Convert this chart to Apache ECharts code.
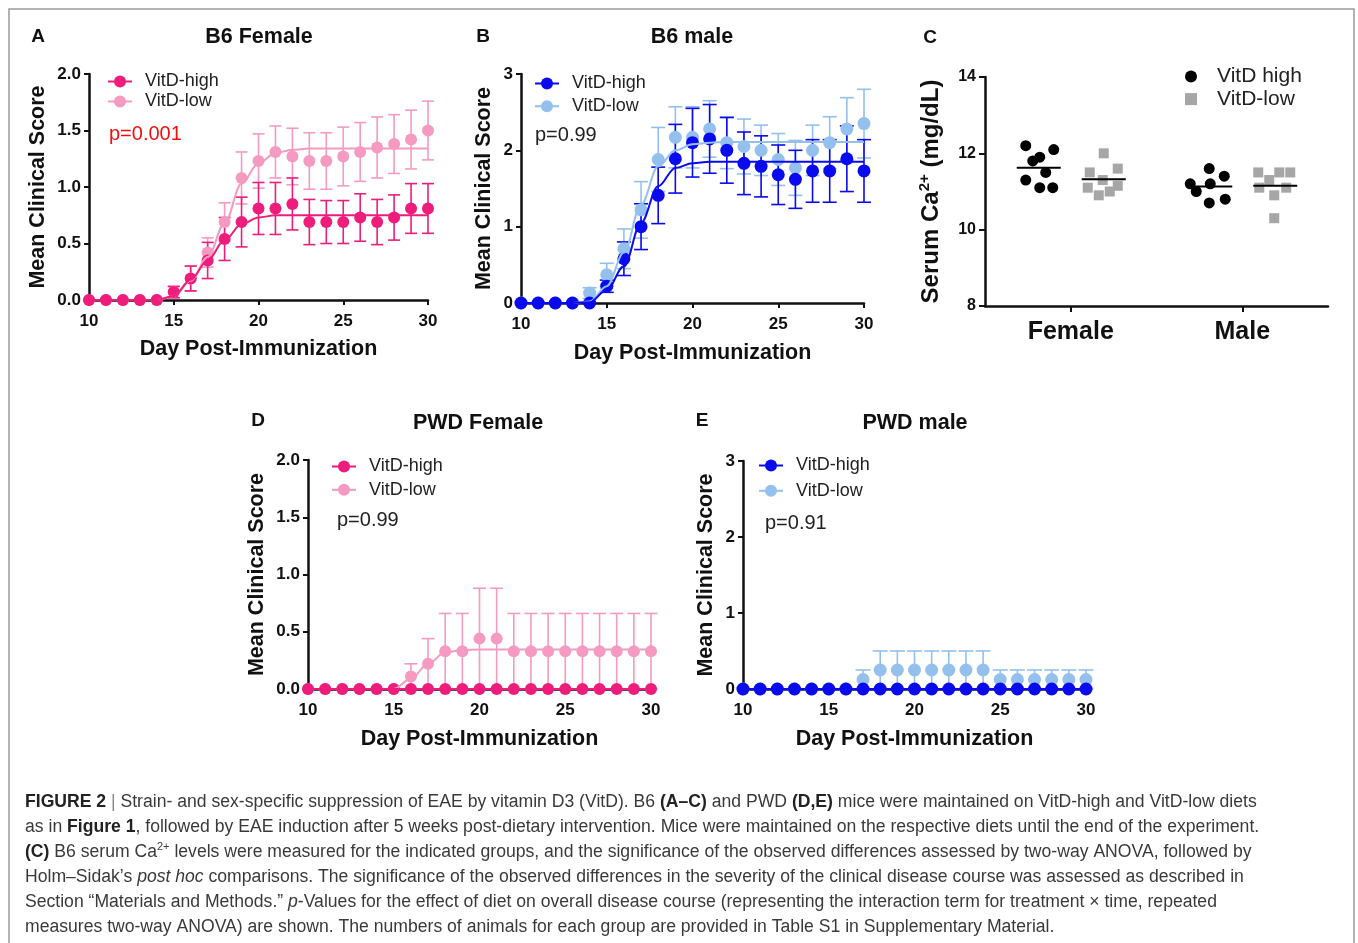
<!DOCTYPE html>
<html><head><meta charset="utf-8">
<script src="https://cdn.jsdelivr.net/npm/echarts@6/dist/echarts.min.js"></script>
<style>html,body{margin:0;padding:0;background:#fff}#chart{width:1358px;height:943px}</style>
</head><body><div id="chart"></div>
<script>
// ---------------- DATA ----------------
const days = [10,11,12,13,14,15,16,17,18,19,20,21,22,23,24,25,26,27,28,29,30];

// A: B6 Female
const aHighMean = [0,0,0,0,0,0.07,0.19,0.35,0.54,0.69,0.81,0.81,0.85,0.69,0.69,0.69,0.73,0.69,0.73,0.81,0.81];
const aHighErr  = [0,0,0,0,0,0.05,0.11,0.16,0.19,0.22,0.23,0.23,0.23,0.20,0.19,0.19,0.21,0.20,0.20,0.22,0.22];
const aHighFit  = [0,0,0,0,0,0.035,0.18,0.35,0.53,0.67,0.73,0.75,0.75,0.75,0.75,0.75,0.75,0.75,0.75,0.75,0.75];
const aLowMean  = [0,0,0,0,0,0.07,0.19,0.42,0.69,1.08,1.23,1.31,1.27,1.23,1.23,1.27,1.31,1.35,1.38,1.42,1.50];
const aLowErr   = [0,0,0,0,0,0.05,0.11,0.13,0.17,0.23,0.24,0.23,0.25,0.25,0.25,0.26,0.26,0.27,0.26,0.26,0.26];
const aLowFit   = [0,0,0,0,0,0.035,0.17,0.38,0.68,1.03,1.21,1.30,1.33,1.34,1.34,1.34,1.34,1.34,1.34,1.34,1.34];

// B: B6 male
const bHighMean = [0,0,0,0,0,0.22,0.58,1.00,1.41,1.89,2.10,2.15,2.00,1.83,1.79,1.68,1.62,1.73,1.73,1.89,1.73];
const bHighErr  = [0,0,0,0,0,0.08,0.22,0.30,0.37,0.45,0.45,0.45,0.43,0.41,0.40,0.39,0.38,0.41,0.41,0.43,0.41];
const bHighFit  = [0,0,0,0,0.01,0.17,0.48,1.05,1.53,1.77,1.83,1.85,1.85,1.85,1.85,1.85,1.85,1.85,1.85,1.85,1.85];
const bLowMean  = [0,0,0,0,0.13,0.37,0.71,1.22,1.88,2.17,2.17,2.28,2.10,2.05,2.00,1.88,1.77,2.00,2.10,2.28,2.35];
const bLowErr   = [0,0,0,0,0.07,0.15,0.26,0.37,0.42,0.40,0.40,0.37,0.34,0.36,0.33,0.34,0.36,0.33,0.34,0.41,0.45];
const bLowFit   = [0,0,0,0,0.02,0.22,0.66,1.29,1.79,2.00,2.08,2.10,2.11,2.11,2.11,2.11,2.11,2.11,2.11,2.11,2.11];

// C: serum Ca2+ (mg/dL)
const cCategories = ['Female','Male'];
const cFemaleHigh = [12.2,12.1,11.8,11.9,11.5,11.3,11.1,11.1];
const cFemaleLow  = [12.0,11.5,11.6,11.3,11.1,11.0,11.15,10.9];
const cMaleHigh   = [11.6,11.4,11.2,11.0,11.2,10.8,10.7];
const cMaleLow    = [11.5,11.5,11.5,11.3,11.1,11.1,10.9,10.3];

// D: PWD Female
const dHighMean = [0,0,0,0,0,0,0,0,0,0,0,0,0,0,0,0,0,0,0,0,0];
const dHighErr  = [0,0,0,0,0,0,0,0,0,0,0,0,0,0,0,0,0,0,0,0,0];
const dHighFit  = [0,0,0,0,0,0,0,0,0,0,0,0,0,0,0,0,0,0,0,0,0];
const dLowMean  = [0,0,0,0,0,0,0.11,0.22,0.33,0.33,0.44,0.44,0.33,0.33,0.33,0.33,0.33,0.33,0.33,0.33,0.33];
const dLowErr   = [0,0,0,0,0,0,0.11,0.22,0.33,0.33,0.44,0.44,0.33,0.33,0.33,0.33,0.33,0.33,0.33,0.33,0.33];
const dLowFit   = [0,0,0,0,0,0,0.09,0.22,0.32,0.34,0.345,0.345,0.345,0.345,0.345,0.345,0.345,0.345,0.345,0.345,0.345];

// E: PWD male
const eHighMean = [0,0,0,0,0,0,0,0,0,0,0,0,0,0,0,0,0,0,0,0,0];
const eHighErr  = [0,0,0,0,0,0,0,0,0,0,0,0,0,0,0,0,0,0,0,0,0];
const eHighFit  = [0,0,0,0,0,0,0,0,0,0,0,0,0,0,0,0,0,0,0,0,0];
const eLowMean  = [0,0,0,0,0,0,0,0.125,0.25,0.25,0.25,0.25,0.25,0.25,0.25,0.125,0.125,0.125,0.125,0.125,0.125];
const eLowErr   = [0,0,0,0,0,0,0,0.125,0.25,0.25,0.25,0.25,0.25,0.25,0.25,0.125,0.125,0.125,0.125,0.125,0.125];
const eLowFit   = [0,0,0,0,0,0,0,0,0,0,0,0,0,0,0,0,0,0,0,0,0];

const pValues = ['p=0.001','p=0.99','p=0.99','p=0.91'];

// ---------------- STYLE ----------------
const FONT = "'Liberation Sans', Arial, Helvetica, sans-serif";
const INK = '#111';
const PINK_D = '#ee1c7a', PINK_L = '#f59ac0', BLUE_D = '#0a0aef', BLUE_L = '#94c0ee';
const C_BLACK = '#000', C_GRAY = '#a6a6a6';

const gridsPx = [
  {left:89,  top:74,  width:339, height:226},  // A
  {left:521, top:74,  width:343, height:229},  // B
  {left:985, top:77,  width:343, height:229},  // C
  {left:308, top:460, width:343, height:229},  // D
  {left:743, top:461, width:343, height:228}   // E
];

// jitter pattern (px) for column scatter in C, relative to group centre
const GROUP_SHIFT_PX = {high:-32, low:33};
const JIT = {
  fh:[-13,15,-6,1,7,-13,1,14],
  fl:[0,-14,14,-1,-16,6,14,-5],
  mh:[-1,14,-20,-14,0,15,-1],
  ml:[-17,4,15,-6,-16,11,-1,-1]
};

const axisLineStyle = {color:INK, width:2.5};
function timeXAxis(gi, gap){
  return {type:'value', gridIndex:gi, min:10, max:30, interval:5,
    axisLine:{show:true, onZero:false, lineStyle:axisLineStyle},
    axisTick:{show:true, length:5, lineStyle:{color:INK, width:2}},
    axisLabel:{fontFamily:FONT, fontSize:17, fontWeight:'bold', color:INK, margin:12.5},
    splitLine:{show:false},
    name:'Day Post-Immunization', nameLocation:'middle', nameGap:gap,
    nameTextStyle:{fontFamily:FONT, fontSize:21.5, fontWeight:'bold', color:INK}};
}
function scoreYAxis(gi, max, interval, dec, gap){
  return {type:'value', gridIndex:gi, min:0, max:max, interval:interval,
    axisLine:{show:true, onZero:false, lineStyle:axisLineStyle},
    axisTick:{show:true, length:5, lineStyle:{color:INK, width:2}},
    axisLabel:{fontFamily:FONT, fontSize:17, fontWeight:'bold', color:INK, margin:8,
      formatter: v => v.toFixed(dec)},
    splitLine:{show:false},
    name:'Mean Clinical Score', nameLocation:'middle', nameGap:gap, nameRotate:90,
    nameTextStyle:{fontFamily:FONT, fontSize:21.5, fontWeight:'bold', color:INK}};
}

function errRenderer(capW){
  return function(params, api){
    const x = api.value(0), y = api.value(1), e = api.value(2);
    if (!e) return null;
    const hi = api.coord([x, y + e]), lo = api.coord([x, y - e]);
    const w = capW / 2;
    const st = {stroke: api.visual('color'), lineWidth: 1.6, fill:null};
    return {type:'group', children:[
      {type:'line', shape:{x1:hi[0], y1:hi[1], x2:lo[0], y2:lo[1]}, style:st},
      {type:'line', shape:{x1:hi[0]-w, y1:hi[1], x2:hi[0]+w, y2:hi[1]}, style:st},
      {type:'line', shape:{x1:lo[0]-w, y1:lo[1], x2:lo[0]+w, y2:lo[1]}, style:st}
    ]};
  };
}

function panelSeries(tag, xi, yi, capW, symSize, groups){
  const out = [];
  groups.forEach(g => {
    out.push({type:'custom', xAxisIndex:xi, yAxisIndex:yi, clip:false, silent:true,
      itemStyle:{color:g.color}, renderItem:errRenderer(capW),
      data: days.map((d,i) => [d, g.mean[i], g.err[i]])});
    out.push({type:'line', name: tag + ' ' + g.key, xAxisIndex:xi, yAxisIndex:yi, clip:false,
      smooth:0.35, smoothMonotone:'x', symbol:'circle', symbolSize:symSize, showSymbol:false,
      lineStyle:{color:g.color, width:2}, itemStyle:{color:g.color}, silent:true,
      data: days.map((d,i) => [d, g.fit[i]])});
    out.push({type:'scatter', xAxisIndex:xi, yAxisIndex:yi, clip:false, silent:true,
      symbol:'circle', symbolSize:symSize, itemStyle:{color:g.color, opacity:1},
      data: days.map((d,i) => [d, g.mean[i]])});
  });
  return out;
}

const series = [];
series.push(...panelSeries('A', 0, 0, 12, 12, [
  {key:'VitD-low',  color:PINK_L, mean:aLowMean,  err:aLowErr,  fit:aLowFit},
  {key:'VitD-high', color:PINK_D, mean:aHighMean, err:aHighErr, fit:aHighFit}]));
series.push(...panelSeries('B', 1, 1, 14, 13, [
  {key:'VitD-low',  color:BLUE_L, mean:bLowMean,  err:bLowErr,  fit:bLowFit},
  {key:'VitD-high', color:BLUE_D, mean:bHighMean, err:bHighErr, fit:bHighFit}]));
series.push(...panelSeries('D', 2, 3, 13, 12, [
  {key:'VitD-low',  color:PINK_L, mean:dLowMean,  err:dLowErr,  fit:dLowFit},
  {key:'VitD-high', color:PINK_D, mean:dHighMean, err:dHighErr, fit:dHighFit}]));
series.push(...panelSeries('E', 3, 4, 15, 13, [
  {key:'VitD-low',  color:BLUE_L, mean:eLowMean,  err:eLowErr,  fit:eLowFit},
  {key:'VitD-high', color:BLUE_D, mean:eHighMean, err:eHighErr, fit:eHighFit}]));

// Panel C: column scatter
const cUnitPx = gridsPx[2].width / cCategories.length;
function colPoints(vals, catIdx, shiftPx, jit){
  return vals.map((v,i) => [catIdx + 0.5 + (shiftPx + jit[i]) / cUnitPx, v]);
}
const mean = a => a.reduce((s,v)=>s+v,0)/a.length;
series.push({type:'scatter', name:'C VitD high', xAxisIndex:5, yAxisIndex:2, clip:false, silent:true,
  symbol:'circle', symbolSize:11, itemStyle:{color:C_BLACK, opacity:1},
  data:[...colPoints(cFemaleHigh,0,GROUP_SHIFT_PX.high,JIT.fh), ...colPoints(cMaleHigh,1,GROUP_SHIFT_PX.high,JIT.mh)]});
series.push({type:'scatter', name:'C VitD-low', xAxisIndex:5, yAxisIndex:2, clip:false, silent:true,
  symbol:'rect', symbolSize:10, itemStyle:{color:C_GRAY, opacity:1},
  data:[...colPoints(cFemaleLow,0,GROUP_SHIFT_PX.low,JIT.fl), ...colPoints(cMaleLow,1,GROUP_SHIFT_PX.low,JIT.ml)]});
series.push({type:'custom', xAxisIndex:5, yAxisIndex:2, clip:false, silent:true, z:5,
  renderItem:function(params, api){
    const x = api.value(0), y = api.value(1);
    const p = api.coord([x, y]);
    return {type:'line', shape:{x1:p[0]-22, y1:p[1], x2:p[0]+22, y2:p[1]},
      style:{stroke:'#000', lineWidth:2}};
  },
  data:[
    [0.5 + GROUP_SHIFT_PX.high / cUnitPx, mean(cFemaleHigh)],
    [0.5 + GROUP_SHIFT_PX.low  / cUnitPx, mean(cFemaleLow)],
    [1.5 + GROUP_SHIFT_PX.high / cUnitPx, mean(cMaleHigh)],
    [1.5 + GROUP_SHIFT_PX.low  / cUnitPx, mean(cMaleLow)]
  ]});

const xAxis = [
  timeXAxis(0, 38),
  timeXAxis(1, 39),
  timeXAxis(3, 39),
  timeXAxis(4, 39),
  {type:'category', gridIndex:2, data:cCategories, boundaryGap:true,
    axisLine:{show:true, lineStyle:axisLineStyle},
    axisTick:{show:true, alignWithLabel:true, length:6, lineStyle:{color:INK, width:2}},
    axisLabel:{fontFamily:FONT, fontSize:25, fontWeight:'bold', color:INK, margin:14}},
  {type:'value', gridIndex:2, min:0, max:2, show:false}
];
const yAxis = [
  scoreYAxis(0, 2, 0.5, 1, 40),
  scoreYAxis(1, 3, 1, 0, 26),
  {type:'value', gridIndex:2, min:8, max:14, interval:2,
    axisLine:{show:true, onZero:false, lineStyle:axisLineStyle},
    axisTick:{show:true, length:6, lineStyle:{color:INK, width:2}},
    axisLabel:{fontFamily:FONT, fontSize:16, fontWeight:'bold', color:INK, margin:9},
    splitLine:{show:false},
    name:'{n|Serum Ca}{s|2+}{n| (mg/dL)}', nameLocation:'middle', nameGap:40, nameRotate:90,
    nameTextStyle:{fontFamily:FONT, color:INK, rich:{
      n:{fontFamily:FONT, fontSize:24, fontWeight:'bold', color:INK, lineHeight:28},
      s:{fontFamily:FONT, fontSize:15, fontWeight:'bold', color:INK, lineHeight:15, verticalAlign:'top'}}}},
  scoreYAxis(3, 2, 0.5, 1, 40),
  scoreYAxis(4, 3, 1, 0, 26)
];

function lineLegend(tag, left, top, gap){
  return {left:left, top:top, padding:0, orient:'vertical', itemGap:gap, itemWidth:24, itemHeight:15,
    selectedMode:false, data:[tag+' VitD-high', tag+' VitD-low'],
    formatter: n => n.slice(2),
    textStyle:{fontFamily:FONT, fontSize:18, color:'#222', padding:[0,0,0,8]}};
}
const legend = [
  lineLegend('A', 107, 72.5, 2),
  lineLegend('B', 534, 74.5, 4.7),
  lineLegend('D', 331, 457.5, 5.3),
  lineLegend('E', 758, 456.5, 7.3),
  {left:1185, top:66, padding:0, orient:'vertical', itemGap:1.6, itemWidth:12, itemHeight:12, selectedMode:false,
   data:['C VitD high','C VitD-low'], formatter: n => n.slice(2),
   textStyle:{fontFamily:FONT, fontSize:21, color:'#222', padding:[0,0,0,15]}}
];

function txt(x, y, text, size, weight, color, align){
  return {type:'text', x:x, y:y, silent:true, z:100,
    style:{text:text, fontFamily:FONT, fontSize:size, fontWeight:weight, fill:color,
      textAlign:align||'center', textVerticalAlign:'middle'}};
}
const graphic = [
  {type:'rect', shape:{x:9, y:9, width:1345, height:960}, style:{fill:null, stroke:'#9a9a9a', lineWidth:1.5}, silent:true, z:100},
  txt(38, 37, 'A', 19, 'bold', INK),
  txt(259, 37, 'B6 Female', 21.5, 'bold', INK),
  txt(483, 37, 'B', 19, 'bold', INK),
  txt(692, 37, 'B6 male', 21.5, 'bold', INK),
  txt(930, 38, 'C', 19, 'bold', INK),
  txt(258, 421, 'D', 19, 'bold', INK),
  txt(478, 423, 'PWD Female', 21.5, 'bold', INK),
  txt(702, 421, 'E', 19, 'bold', INK),
  txt(915, 423, 'PWD male', 21.5, 'bold', INK),
  txt(109, 134, pValues[0], 20, 'normal', '#f01010', 'left'),
  txt(535, 135, pValues[1], 20, 'normal', '#222', 'left'),
  txt(337, 520, pValues[2], 20, 'normal', '#222', 'left'),
  txt(765, 523, pValues[3], 20, 'normal', '#222', 'left')
];

// caption
const capLines = [
  '{b|FIGURE 2} {bar||} Strain- and sex-specific suppression of EAE by vitamin D3 (VitD). B6 {b|(A\u2013C)} and PWD {b|(D,E)} mice were maintained on VitD-high and VitD-low diets',
  'as in {b|Figure 1}, followed by EAE induction after 5 weeks post-dietary intervention. Mice were maintained on the respective diets until the end of the experiment.',
  '{b|(C)} B6 serum Ca{sup|2+} levels were measured for the indicated groups, and the significance of the observed differences assessed by two-way ANOVA, followed by',
  'Holm\u2013Sidak\u2019s {i|post hoc} comparisons. The significance of the observed differences in the severity of the clinical disease course was assessed as described in',
  'Section \u201cMaterials and Methods.\u201d {i|p}-Values for the effect of diet on overall disease course (representing the interaction term for treatment \u00d7 time, repeated',
  'measures two-way ANOVA) are shown. The numbers of animals for each group are provided in Table S1 in Supplementary Material.'
];
const CAP_COL = '#3a3a3a', CAP_SIZE = 17.6;
capLines.forEach((line, k) => {
  graphic.push({type:'text', x:25, y:802 + k*25, silent:true, z:100,
    style:{text:line, fontFamily:FONT, fontSize:CAP_SIZE, fill:CAP_COL, textAlign:'left', textVerticalAlign:'middle',
      lineHeight:21,
      rich:{
        b:{fontFamily:FONT, fontSize:CAP_SIZE, fontWeight:'bold', fill:'#222', color:'#222', lineHeight:21},
        i:{fontFamily:FONT, fontSize:CAP_SIZE, fontStyle:'italic', fill:CAP_COL, color:CAP_COL, lineHeight:21},
        bar:{fontFamily:FONT, fontSize:CAP_SIZE, fill:'#888', color:'#888', lineHeight:21},
        sup:{fontFamily:FONT, fontSize:11, fill:CAP_COL, color:CAP_COL, lineHeight:13, verticalAlign:'top'}
      }}});
});

const chart = echarts.init(document.getElementById('chart'), null, {renderer:'canvas'});
chart.setOption({
  animation:false,
  backgroundColor:'#fff',
  textStyle:{fontFamily:FONT},
  grid: gridsPx.map(g => Object.assign({containLabel:false}, g)),
  xAxis: xAxis,
  yAxis: yAxis,
  legend: legend,
  series: series,
  graphic: graphic
});
</script>
</body></html>
